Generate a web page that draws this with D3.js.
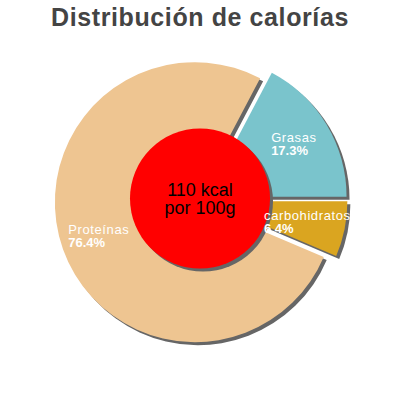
<!DOCTYPE html>
<html>
<head>
<meta charset="utf-8">
<script src="https://cdn.jsdelivr.net/npm/d3@7"></script>
<style>
  body { margin: 0; background: #fff; }
  text { font-family: "Liberation Sans", Arial, sans-serif; }
</style>
</head>
<body>
<div class="pie_chart"></div>
<script>
const categories = ["Grasas", "carbohidratos", "Proteínas"];
const percentages = [17.3, 6.4, 76.4];
const colors = ["#7ac4cc", "#daa520", "#eec591"];
const centerLines = ["110 kcal", "por 100g"];
const title = "Distribución de calorías";

const width = 400, height = 400;
const cx = 201, cy = 200;
const radius = 140;
const explode = 6.5;
const shadow = 3;

const svg = d3.select(".pie_chart")
  .append("svg")
  .attr("width", width)
  .attr("height", height);

svg.append("text")
  .attr("x", width / 2)
  .attr("y", 26)
  .attr("text-anchor", "middle")
  .attr("font-size", "25px")
  .attr("font-weight", "bold")
  .attr("letter-spacing", "0.6px")
  .attr("fill", "#444")
  .text(title);

const data = categories.map((c, i) => ({ name: c, value: percentages[i], color: colors[i] }));

// first slice ends at 3 o'clock
const total = d3.sum(percentages);
const start = Math.PI / 2 - 2 * Math.PI * percentages[0] / total;

const pie = d3.pie()
  .sort(null)
  .value(d => d.value)
  .startAngle(start)
  .endAngle(start + 2 * Math.PI);

const slices = pie(data);

const arc = d3.arc().innerRadius(0).outerRadius(radius);

// each slice pushed out along its middle
function offset(d) {
  const a = (d.startAngle + d.endAngle) / 2;
  return [explode * Math.sin(a), -explode * Math.cos(a)];
}

const g = svg.append("g").attr("transform", `translate(${cx},${cy})`);

g.selectAll("path.shadow")
  .data(slices)
  .join("path")
  .attr("class", "shadow")
  .attr("d", arc)
  .attr("fill", "#666")
  .attr("transform", d => {
    const o = offset(d);
    return `translate(${o[0] + shadow},${o[1] + shadow})`;
  });

g.selectAll("path.slice")
  .data(slices)
  .join("path")
  .attr("class", "slice")
  .attr("d", arc)
  .attr("fill", d => d.data.color)
  .attr("transform", d => {
    const o = offset(d);
    return `translate(${o[0]},${o[1]})`;
  });

// centre disc
const innerR = 70;
const disc = svg.append("g").attr("transform", `translate(${cx - 1},${cy - 1.5})`);
disc.append("circle").attr("cx", shadow).attr("cy", shadow).attr("r", innerR).attr("fill", "#666");
disc.append("circle").attr("r", innerR).attr("fill", "#ff0000");
disc.selectAll("text.kcal")
  .data(centerLines)
  .join("text")
  .attr("class", "kcal")
  .attr("text-anchor", "middle")
  .attr("font-size", "18px")
  .attr("fill", "#000")
  .attr("y", (d, i) => -2.5 + i * 18)
  .text(d => d);

// labels on top: two lines, left aligned, block centred on the bisector
const labelRadius = 102;
const labels = svg.append("g").attr("transform", `translate(${cx},${cy})`);
slices.forEach(d => {
  const o = offset(d);
  const a = (d.startAngle + d.endAngle) / 2;
  const lx = o[0] + labelRadius * Math.sin(a);
  const ly = o[1] - labelRadius * Math.cos(a);
  const lab = labels.append("text")
    .attr("fill", "#fff")
    .attr("font-size", "13px");
  lab.append("tspan").attr("x", 0).attr("y", 0)
    .attr("letter-spacing", "0.6px")
    .text(d.data.name);
  lab.append("tspan").attr("x", 0).attr("y", 13).attr("font-weight", "bold")
    .text(d.data.value.toFixed(1) + "%");
  const bb = lab.node().getBBox();
  lab.attr("transform", `translate(${lx - bb.width / 2},${ly - (bb.y + bb.height / 2)})`);
});
</script>
</body>
</html>
